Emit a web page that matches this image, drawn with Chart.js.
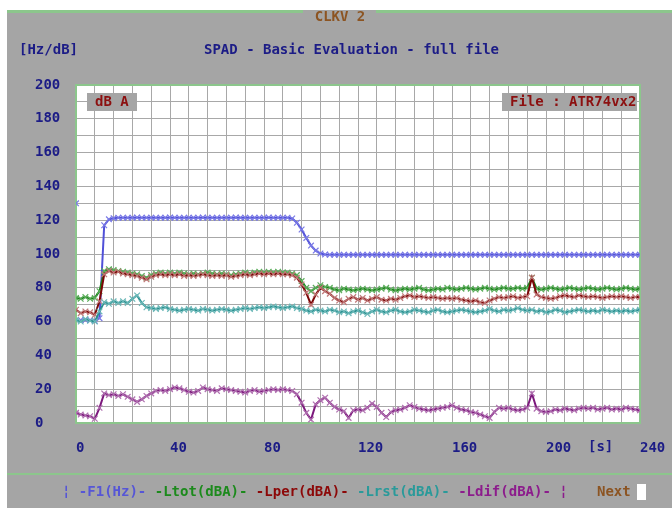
<!DOCTYPE html>
<html>
<head>
<meta charset="utf-8">
<title>SPAD - Basic Evaluation</title>
<script src="https://cdn.jsdelivr.net/npm/chart.js@4/dist/chart.umd.min.js"></script>
<style>
  html, body { margin: 0; padding: 0; background: #fff; }
  #wrap { width: 672px; height: 508px; position: relative; }
</style>
</head>
<body>
<div id="wrap"><canvas id="spad"></canvas></div>
<script>
// one sample every 2 s, 0..240 s (5 samples per row = 10 s)
const SAMPLE_STEP = 2;

const F1_HZ = [
  130, 61, 61, 61, 60.5,
  62, 117, 120.5, 121.2, 121.5,
  121.5, 121.4, 121.5, 121.6, 121.5,
  121.5, 121.5, 121.4, 121.5, 121.5,
  121.6, 121.5, 121.5, 121.4, 121.5,
  121.5, 121.5, 121.6, 121.5, 121.5,
  121.4, 121.5, 121.5, 121.5, 121.6,
  121.5, 121.5, 121.4, 121.5, 121.5,
  121.5, 121.6, 121.5, 121.5, 121.5,
  121.5, 121, 118.5, 114.5, 109.5,
  105, 102, 100.3, 99.7, 99.5,
  99.5, 99.5, 99.5, 99.5, 99.5,
  99.5, 99.5, 99.5, 99.5, 99.5,
  99.5, 99.5, 99.5, 99.5, 99.5,
  99.5, 99.5, 99.5, 99.5, 99.5,
  99.5, 99.5, 99.5, 99.5, 99.5,
  99.5, 99.5, 99.5, 99.5, 99.5,
  99.5, 99.5, 99.5, 99.5, 99.5,
  99.5, 99.5, 99.5, 99.5, 99.5,
  99.5, 99.5, 99.5, 99.5, 99.5,
  99.5, 99.5, 99.5, 99.5, 99.5,
  99.5, 99.5, 99.5, 99.5, 99.5,
  99.5, 99.5, 99.5, 99.5, 99.5,
  99.5, 99.5, 99.5, 99.5, 99.5,
  99.5
];

const LTOT_DBA = [
  74, 73.5, 74.5, 73.5, 74,
  78, 90, 91, 90.5, 90,
  89.5, 89, 88.5, 88, 87,
  86, 87.5, 88.5, 89, 88.5,
  89, 88.5, 89, 88.5, 88,
  88.5, 88, 88.5, 89, 88.5,
  88, 88.5, 88, 87.5, 88,
  88.5, 89, 88.5, 89, 89.5,
  89, 89.5, 89, 89.5, 89,
  89, 88.5, 87.5, 84, 80,
  78, 80, 81.5, 80.5, 80,
  79, 78.5, 79.5, 79, 78.5,
  79, 79.5, 79, 78.5, 79,
  79.5, 80, 79, 78.5, 79,
  79.5, 79, 79.5, 80, 79,
  78.5, 79, 79.5, 79, 80,
  79.5, 79, 79.5, 80, 79.5,
  79, 79.5, 80, 79.5, 79,
  79.5, 80, 79.5, 79.5, 80,
  79.5, 80, 86, 79.5, 79,
  79.5, 80, 79.5, 79, 79.5,
  80, 79.5, 79, 79.5, 80,
  79.5, 79, 79.5, 80, 79.5,
  79, 79.5, 80, 79.5, 79,
  79.5
];

const LPER_DBA = [
  67, 65, 66, 65.5, 64,
  72, 88, 90, 89, 89.5,
  88.5, 88, 87.5, 87, 86,
  85, 86.5, 87.5, 88, 87.5,
  88, 87.5, 88, 87, 87.5,
  87, 87.5, 88, 87.5, 87,
  87.5, 87, 87.5, 86.5, 87,
  87.5, 88, 87.5, 88, 88.5,
  88, 88.5, 88, 88.5, 88,
  88, 87.5, 86, 82, 77,
  70, 76, 80, 78, 76.5,
  74, 72.5, 71.5, 73.5, 74.5,
  73, 74, 72.5, 73.5, 74.5,
  73, 72.5, 73.5, 73, 74,
  75, 75.5, 74.5, 75, 74.5,
  74, 74.5, 74, 73.5, 74,
  73.5, 74, 73, 72.5, 72,
  72.5, 71.5, 71, 72.5, 73.5,
  74.5, 74, 74.5, 75, 74,
  74.5, 75, 86, 76, 74.5,
  74, 73.5, 74, 75, 75.5,
  75, 74.5, 75.5, 75, 74.5,
  75, 74.5, 74, 74.5, 75,
  74.5, 75, 74.5, 74, 74.5,
  74.5
];

const LRST_DBA = [
  61, 60, 61.5, 60.5, 60,
  66, 71.5, 70.5, 72, 71,
  72, 71, 73.5, 75.5, 71,
  68.5, 68, 67.5, 68, 68.5,
  67.5, 67, 66.5, 67, 67.5,
  67, 66.5, 67.5, 67, 66.5,
  67, 67.5, 67, 66.5, 67,
  67.5, 68, 67.5, 68, 68.5,
  68, 68.5, 69, 68.5, 68,
  68.5, 69, 68, 67.5, 66.5,
  66, 67, 66.5, 66, 67,
  66.5, 65.5, 66, 65, 66,
  66.5, 65.5, 64.5, 66, 67,
  66, 65.5, 66.5, 67, 66,
  65.5, 66, 67, 66.5, 66,
  65.5, 66.5, 67, 66, 65.5,
  66, 66.5, 67, 66.5, 66,
  65.5, 66, 66.5, 67.5, 66.5,
  66, 67, 66.5, 67, 68,
  67, 66.5, 67, 66, 66.5,
  65.5, 66, 67, 66.5, 65.5,
  66, 66.5, 67, 66.5, 66,
  66.5, 66, 67, 66.5, 66,
  66.5, 66, 66.5, 66, 66.5,
  67
];

const LDIF_DBA = [
  6, 5, 4.5, 4, 2.5,
  9, 17.5, 16.5, 17, 16,
  17, 15.5, 14, 12.5, 14,
  16, 17.5, 19, 19.5, 19,
  20, 21, 20.5, 19.5, 18.5,
  18, 19, 21, 20, 19.5,
  19, 20.5, 20, 19.5, 19,
  18.5, 18, 19, 19.5, 18.5,
  19, 19.5, 20, 19.5, 20,
  19.5, 19, 17, 12, 6,
  2, 11, 13.5, 15, 12,
  9.5, 8, 7, 3, 7.5,
  8, 7.5, 9, 11.5, 9.5,
  6, 3.5, 6.5, 7.5, 8,
  9, 10.5, 9.5, 8.5, 8,
  7.5, 8, 8.5, 9, 9.5,
  10.5, 9, 8, 7.5, 6.5,
  6, 5, 4, 3, 6.5,
  9, 8.5, 9, 8, 7.5,
  8, 9, 17.5, 8.5, 7,
  6.5, 7, 8, 7.5, 8.5,
  8, 7.5, 8.5, 9, 8.5,
  9, 8, 8.5, 9, 8,
  8.5, 8, 9, 8.5, 8,
  7.5
];

const LEGEND_ITEMS = [
  { text: "¦ -F1(Hz)- ", color: "#5656d6" },
  { text: "-Ltot(dBA)- ", color: "#1c8a1c" },
  { text: "-Lper(dBA)- ", color: "#8c0808" },
  { text: "-Lrst(dBA)- ", color: "#2a9a9a" },
  { text: "-Ldif(dBA)- ", color: "#8c1c8c" },
  { text: "¦", color: "#8c1c8c" }
];

const FONT = "'DejaVu Sans Mono', 'Liberation Mono', monospace";
const NAVY = "#1c1c86";
const BROWN = "#8c5422";
const PANEL_GRAY = "#a5a5a5";
const FRAME_GREEN = "#8cc68c";

const times = F1_HZ.map((_, i) => i * SAMPLE_STEP);
const points = (values) => values.map((y, i) => ({ x: times[i], y }));

function series(label, values, line, marker, extra) {
  return Object.assign({
    label,
    data: points(values),
    borderColor: line,
    borderWidth: 2,
    pointStyle: "crossRot",
    pointRadius: 4,
    pointBorderWidth: 1.2,
    pointBorderColor: marker,
    pointBackgroundColor: marker,
    tension: 0,
    fill: false
  }, extra || {});
}

function label(ctx, text, x, y, color, align) {
  ctx.fillStyle = color;
  ctx.textAlign = align || "left";
  ctx.fillText(text, x, y);
}

const panel = {
  id: "panel",
  beforeDraw(chart) {
    const { ctx, chartArea: a, width, height } = chart;
    ctx.save();
    ctx.fillStyle = "#ffffff";
    ctx.fillRect(0, 0, width, height);
    ctx.fillStyle = PANEL_GRAY;
    ctx.fillRect(7, 10, width - 7, height - 10);
    ctx.fillStyle = FRAME_GREEN;
    ctx.fillRect(7, 10, 296, 3);
    ctx.fillRect(376, 10, width - 376, 3);
    ctx.fillRect(7, 473, width - 7, 2);
    ctx.fillStyle = "#ffffff";
    ctx.fillRect(a.left, a.top, a.right - a.left, a.bottom - a.top);
    ctx.restore();
  },
  beforeDatasetsDraw(chart) {
    const { ctx, chartArea: a } = chart;
    ctx.save();
    ctx.strokeStyle = FRAME_GREEN;
    ctx.lineWidth = 2;
    ctx.strokeRect(a.left, a.top, a.right - a.left, a.bottom - a.top);

    ctx.font = "bold 14px " + FONT;
    ctx.textBaseline = "middle";
    ctx.fillStyle = PANEL_GRAY;
    ctx.fillRect(87, 93, 50, 18);
    ctx.fillRect(502, 93, 135, 18);
    label(ctx, "dB A", 95, 102, "#8c1010");
    label(ctx, "File : ATR74vx2", 510, 102, "#8c1010");
    ctx.restore();
  },
  afterDraw(chart) {
    const { ctx } = chart;
    ctx.save();
    ctx.font = "bold 14px " + FONT;
    ctx.textBaseline = "middle";
    label(ctx, "CLKV 2", 340, 17, BROWN, "center");
    label(ctx, "[Hz/dB]", 19, 50, NAVY);
    label(ctx, "SPAD - Basic Evaluation - full file", 204, 50, NAVY);
    label(ctx, "[s]", 588, 447, NAVY);

    let x = 62;
    LEGEND_ITEMS.forEach(item => {
      label(ctx, item.text, x, 492, item.color);
      x += ctx.measureText(item.text).width;
    });
    label(ctx, "Next", 597, 492, BROWN);
    ctx.fillStyle = "#ffffff";
    ctx.fillRect(637, 484, 9, 16);
    ctx.restore();
  }
};

const tickFont = { family: FONT, size: 14, weight: "bold" };

new Chart(document.getElementById("spad"), {
  type: "line",
  data: {
    datasets: [
      series("F1(Hz)", F1_HZ, "#5050d8", "#7a7ae6", {
        order: 5,
        segment: { borderColor: ctx => ctx.p0DataIndex === 0 ? "rgba(0,0,0,0)" : undefined }
      }),
      series("Ltot(dBA)", LTOT_DBA, "#1c801c", "#5cae5c", { order: 4 }),
      series("Lper(dBA)", LPER_DBA, "#7c0606", "#c07878", { order: 3 }),
      series("Lrst(dBA)", LRST_DBA, "#288f8f", "#6cb8b8", { order: 2 }),
      series("Ldif(dBA)", LDIF_DBA, "#7c187c", "#b070b0", { order: 1 })
    ]
  },
  options: {
    responsive: true,
    maintainAspectRatio: false,
    animation: false,
    devicePixelRatio: 1,
    layout: { padding: { left: 35, right: 32, top: 85, bottom: 0 } },
    plugins: {
      legend: { display: false },
      tooltip: { enabled: false },
      title: { display: false }
    },
    scales: {
      x: {
        type: "linear",
        min: 0,
        max: 240,
        afterFit(scale) {
          scale.height = 85;
          scale.paddingLeft = 0;
          scale.paddingRight = 0;
        },
        border: { display: false },
        grid: { color: "#a8a8a8", lineWidth: 1, drawTicks: false },
        ticks: {
          stepSize: 8,
          autoSkip: false,
          maxRotation: 0,
          align: "start",
          padding: 17,
          color: NAVY,
          font: tickFont,
          callback: v => (v % 40 === 0 ? String(v) : "")
        }
      },
      y: {
        min: 0,
        max: 200,
        afterFit(scale) {
          scale.width = 41;
          scale.paddingTop = 0;
          scale.paddingBottom = 0;
        },
        border: { display: false },
        grid: { color: "#a8a8a8", lineWidth: 1, drawTicks: false },
        ticks: {
          stepSize: 10,
          autoSkip: false,
          crossAlign: "far",
          color: NAVY,
          font: tickFont,
          callback: v => (v % 20 === 0 ? String(v) : "")
        }
      }
    }
  },
  plugins: [panel]
});
</script>
</body>
</html>
